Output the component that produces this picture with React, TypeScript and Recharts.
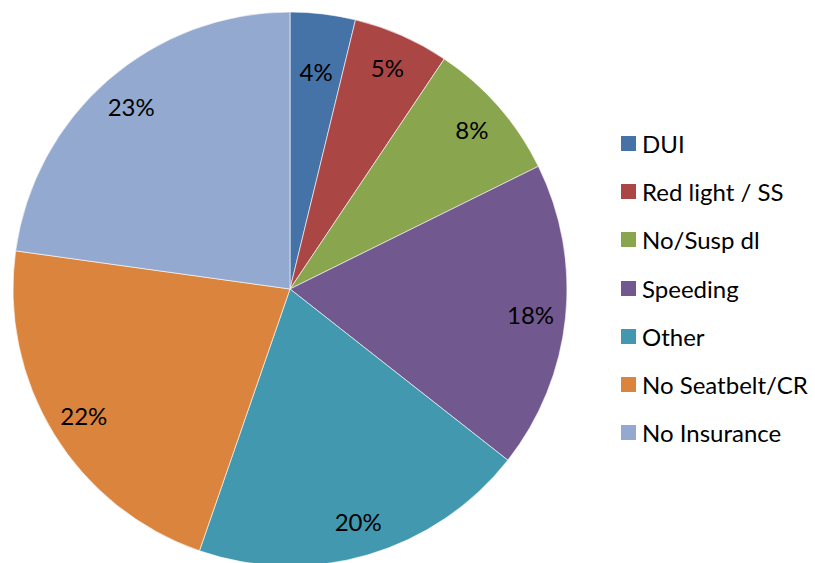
import { PieChart, Pie, Cell, Legend } from "recharts";

// Citation types, clockwise from 12 o'clock
const categories = ["DUI", "Red light / SS", "No/Susp dl", "Speeding", "Other", "No Seatbelt/CR", "No Insurance"];
const shares = [3.8, 5.6, 8.3, 17.9, 19.7, 21.9, 22.8];
const shareLabels = ["4%", "5%", "8%", "18%", "20%", "22%", "23%"];
const colors = ["#4572A7", "#AA4643", "#89A54E", "#71588F", "#4198AF", "#DB843D", "#93A9CF"];

const data = categories.map((name, i) => ({ name, value: shares[i], label: shareLabels[i] }));

const FONT = "Lato, 'Open Sans', sans-serif";
const RADIAN = Math.PI / 180;

const renderLabel = (props: any) => {
  const { cx, cy, midAngle, outerRadius, index } = props;
  const r = outerRadius * (shares[index] < 5 ? 0.79 : 0.873);
  const x = cx + r * Math.cos(-midAngle * RADIAN);
  const y = cy + r * Math.sin(-midAngle * RADIAN);
  return (
    <text x={x} y={y} fill="#000" textAnchor="middle" dominantBaseline="central" fontSize={24} fontFamily={FONT}>
      {shareLabels[index]}
    </text>
  );
};

const LegendList = () => (
  <div style={{ fontFamily: FONT, fontSize: 24, color: "#000" }}>
    {categories.map((c, i) => (
      <div key={c} style={{ display: "flex", alignItems: "center", height: 48.3 }}>
        <span style={{ width: 15, height: 15, background: colors[i], display: "inline-block", marginRight: 6 }} />
        <span>{c}</span>
      </div>
    ))}
  </div>
);

export default function App() {
  return (
    <div style={{ position: "absolute", left: 0, top: 0, width: 815, height: 563, background: "#fff" }}>
      <PieChart width={815} height={563} margin={{ top: 0, right: 0, bottom: 0, left: 0 }}>
        <Pie
          data={data}
          dataKey="value"
          nameKey="name"
          cx={290}
          cy={289}
          outerRadius={277}
          startAngle={90}
          endAngle={-270}
          stroke="#ffffff"
          strokeWidth={0.6}
          label={renderLabel}
          labelLine={false}
          isAnimationActive={false}
        >
          {data.map((d, i) => (
            <Cell key={d.name} fill={colors[i]} />
          ))}
        </Pie>
        <Legend
          content={() => <LegendList />}
          layout="vertical"
          wrapperStyle={{ left: 621, top: 119, width: 194 }}
        />
      </PieChart>
    </div>
  );
}
